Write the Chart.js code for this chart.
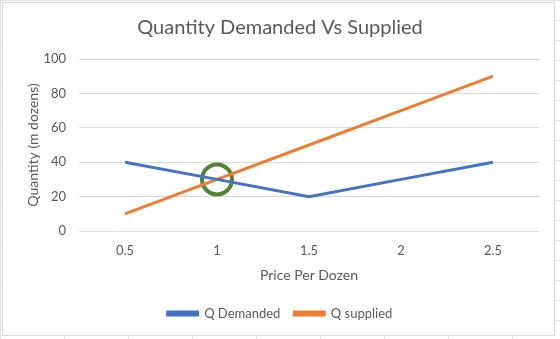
<!DOCTYPE html>
<html>
<head>
<meta charset="utf-8">
<script src="https://cdn.jsdelivr.net/npm/chart.js@4"></script>
<style>
  html, body { margin: 0; padding: 0; background: #fff; }
  body {
    width: 560px; height: 339px; overflow: hidden;
    background-image:
      linear-gradient(to right, #e4e4e4 1px, transparent 1px),
      linear-gradient(to bottom, #e4e4e4 1px, transparent 1px);
    background-size: 64px 20px;
  }
  #box {
    position: absolute; left: 2px; top: 2px;
    width: 551px; height: 332px;
    background: #fff; border: 1px solid #d9d9d9;
  }
</style>
</head>
<body>
<div id="box"><canvas id="chart"></canvas></div>
<script>
const prices = ["0.5", "1", "1.5", "2", "2.5"];
const demanded = [40, 30, 20, 30, 40];
const supplied = [10, 30, 50, 70, 90];
const equilibrium = [null, 30, null, null, null];
const yTicks = [0, 20, 40, 60, 80, 100];

const FONT = "Lato, 'Open Sans', sans-serif";
const grey = "#595959";

new Chart(document.getElementById("chart"), {
  type: "line",
  data: {
    labels: prices,
    datasets: [
      { label: "Q Demanded", data: demanded, borderColor: "#4472C4", backgroundColor: "#4472C4",
        borderWidth: 3, pointRadius: 0, tension: 0 },
      { label: "Q supplied", data: supplied, borderColor: "#ED7D31", backgroundColor: "#ED7D31",
        borderWidth: 3, pointRadius: 0, tension: 0 },
      { label: "equilibrium", data: equilibrium, showLine: false, pointRadius: 15, pointHoverRadius: 15,
        pointBorderWidth: 4, pointBorderColor: "#548235", pointBackgroundColor: "rgba(0,0,0,0)" }
    ]
  },
  options: {
    responsive: true,
    maintainAspectRatio: false,
    animation: false,
    layout: { autoPadding: false, padding: { left: 18, right: 15, top: 8, bottom: 5 } },
    plugins: {
      title: {
        display: true, text: "Quantity Demanded Vs Supplied", color: grey,
        font: { family: FONT, size: 20, weight: "normal" }, padding: { top: 5, bottom: 19 }
      },
      legend: {
        position: "bottom",
        labels: {
          color: grey, font: { family: FONT, size: 13 },
          boxWidth: 30, boxHeight: 3, padding: 14,
          filter: (item) => item.datasetIndex < 2
        }
      },
      tooltip: { enabled: false }
    },
    scales: {
      x: {
        offset: true,
        grid: { display: false },
        border: { display: false },
        ticks: { color: grey, font: { family: FONT, size: 13, lineHeight: 1 }, padding: 5 },
        title: { display: true, text: "Price Per Dozen", color: grey,
          font: { family: FONT, size: 14, lineHeight: 1 }, padding: { top: 6, bottom: 11 } }
      },
      y: {
        min: 0, max: 100,
        afterBuildTicks: (axis) => { axis.ticks = yTicks.map(v => ({ value: v })); },
        afterFit: (axis) => { axis.width = 58; },
        grid: { color: "#d9d9d9", drawTicks: false, lineWidth: 1 },
        border: { display: false },
        ticks: { color: grey, font: { family: FONT, size: 13 }, padding: 13 },
        title: { display: true, text: "Quantity (m dozens)", color: grey,
          font: { family: FONT, size: 14 }, padding: { top: 4, bottom: 2 } }
      }
    }
  }
});
</script>
</body>
</html>
